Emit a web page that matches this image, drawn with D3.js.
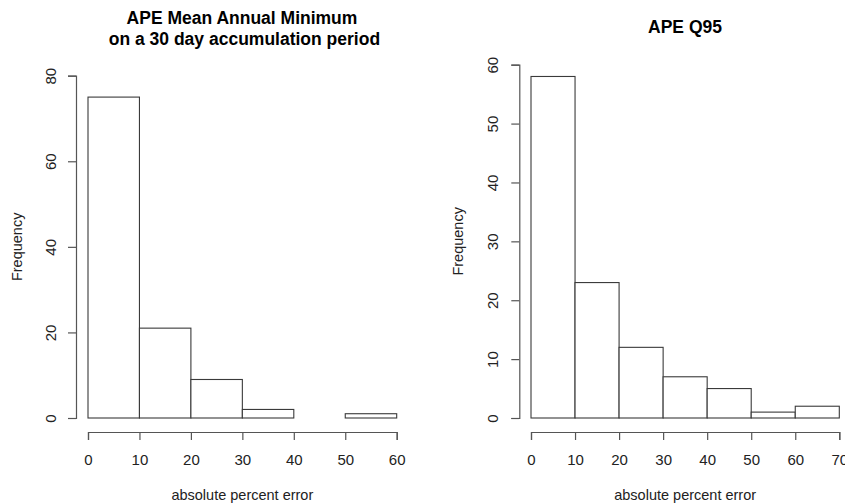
<!DOCTYPE html>
<html>
<head>
<meta charset="utf-8">
<script src="https://cdn.jsdelivr.net/npm/d3@7"></script>
<style>
  html, body { margin: 0; padding: 0; background: #fff; }
  svg { display: block; font-family: "Liberation Sans", Arial, sans-serif; }
</style>
</head>
<body>
<svg id="chart" width="845" height="504"></svg>
<script>
// Histogram bin edges (absolute percent error) and counts
const minBreaks = [0, 10, 20, 30, 40, 50, 60];
const minCounts = [75, 21, 9, 2, 0, 1];
const minYTicks = [0, 20, 40, 60, 80];
const minXTicks = [0, 10, 20, 30, 40, 50, 60];

const q95Breaks = [0, 10, 20, 30, 40, 50, 60, 70];
const q95Counts = [58, 23, 12, 7, 5, 1, 2];
const q95YTicks = [0, 10, 20, 30, 40, 50, 60];
const q95XTicks = [0, 10, 20, 30, 40, 50, 60, 70];

const minTitle = ["APE Mean Annual Minimum", " on a 30 day accumulation period"];
const q95Title = ["APE Q95"];
const xLabel = "absolute percent error";
const yLabel = "Frequency";

const svg = d3.select("#chart");
const ink = "#3a3a3a";
const axisInk = "#555";

function panel(opts) {
  const { breaks, counts, yTicks, xTicks, titles, x0, x1, yTop, yBot, yMax,
          axisX, titleYs, titleX, yLabelX, yTickLabelX } = opts;
  const g = svg.append("g");
  const x = d3.scaleLinear().domain([breaks[0], breaks[breaks.length - 1]]).range([x0, x1]);
  const y = d3.scaleLinear().domain([0, yMax]).range([yBot, yTop]);

  // bars
  g.selectAll("rect.bar").data(counts).join("rect")
    .attr("class", "bar")
    .attr("x", (d, i) => x(breaks[i]))
    .attr("y", d => y(d))
    .attr("width", (d, i) => x(breaks[i + 1]) - x(breaks[i]))
    .attr("height", d => y(0) - y(d))
    .attr("fill", "#fff")
    .attr("stroke", ink)
    .attr("stroke-width", 1.1);

  // x axis
  const xAxisY = yBot + 14;
  const gx = g.append("g").attr("transform", `translate(0,${xAxisY})`)
    .call(d3.axisBottom(x).tickValues(xTicks).tickSize(8).tickPadding(14).tickFormat(d3.format("d")));
  gx.select(".domain").attr("stroke", axisInk).attr("stroke-width", 1.2);
  gx.selectAll(".tick line").attr("stroke", axisInk).attr("stroke-width", 1.2);
  gx.selectAll(".tick text").attr("fill", "#222").style("font-size", "15px");

  // y axis
  const gy = g.append("g").attr("transform", `translate(${axisX},0)`)
    .call(d3.axisLeft(y).tickValues(yTicks).tickSize(8).tickFormat(d3.format("d")));
  gy.select(".domain").attr("stroke", axisInk).attr("stroke-width", 1.2);
  gy.selectAll(".tick line").attr("stroke", axisInk).attr("stroke-width", 1.2);
  gy.selectAll(".tick text")
    .attr("x", null).attr("dy", null)
    .attr("fill", "#222")
    .style("font-size", "15px")
    .attr("text-anchor", "middle")
    .attr("transform", `translate(${yTickLabelX - axisX},0) rotate(-90)`)
    .attr("dominant-baseline", "central");

  // axis titles
  g.append("text")
    .attr("x", (x0 + x1) / 2).attr("y", 500)
    .attr("text-anchor", "middle").attr("fill", "#222")
    .style("font-size", "14.5px").text(xLabel);
  g.append("text")
    .attr("transform", `translate(${yLabelX},${(yTop + yBot) / 2}) rotate(-90)`)
    .attr("text-anchor", "middle").attr("dominant-baseline", "central")
    .attr("fill", "#222").style("font-size", "14.5px").text(yLabel);

  // chart title
  titles.forEach((t, i) => {
    g.append("text")
      .attr("x", titleX).attr("y", titleYs[i])
      .attr("text-anchor", "middle").attr("dominant-baseline", "central")
      .attr("fill", "#000").style("font-size", "17.5px").style("font-weight", "bold")
      .attr("xml:space", "preserve")
      .text(t);
  });
}

panel({
  breaks: minBreaks, counts: minCounts, yTicks: minYTicks, xTicks: minXTicks,
  titles: minTitle, x0: 88, x1: 396.7, yTop: 75.7, yBot: 418, yMax: 80,
  axisX: 76, titleYs: [18, 39], titleX: 242, yLabelX: 17, yTickLabelX: 50
});

panel({
  breaks: q95Breaks, counts: q95Counts, yTicks: q95YTicks, xTicks: q95XTicks,
  titles: q95Title, x0: 531, x1: 839.3, yTop: 64.7, yBot: 418, yMax: 60,
  axisX: 519.3, titleYs: [27], titleX: 685, yLabelX: 458, yTickLabelX: 492
});
</script>
</body>
</html>
